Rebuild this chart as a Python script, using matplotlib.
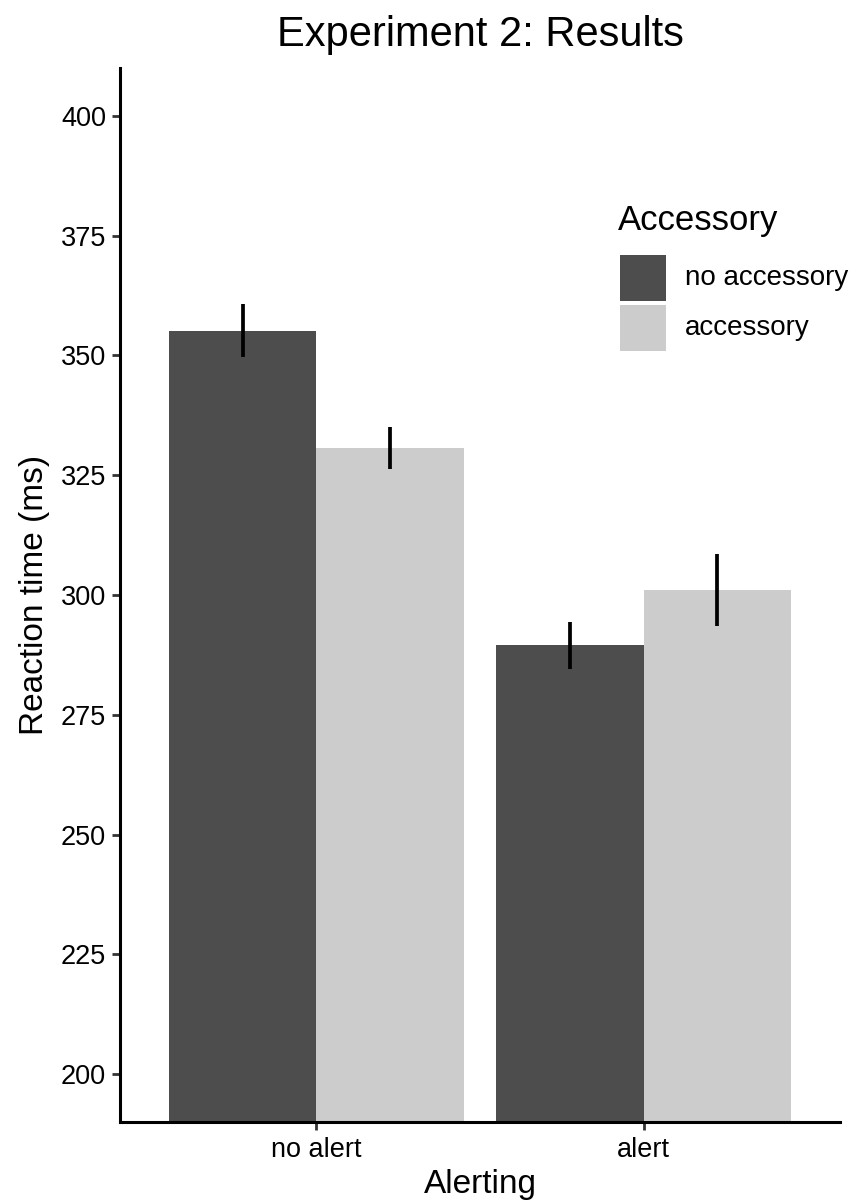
import numpy as np
import matplotlib
matplotlib.use("Agg")
import matplotlib.pyplot as plt
from matplotlib.patches import Rectangle

plt.rcParams['font.family'] = ['Liberation Sans', 'DejaVu Sans']

alerting = ["no alert", "alert"]
accessory = ["no accessory", "accessory"]
rt_no_acc = [355.2, 289.5]
rt_acc = [330.7, 301.0]
se_no_acc = [5.5, 4.9]
se_acc = [4.4, 7.5]
colors = ["#4d4d4d", "#cccccc"]
yticks = [200, 225, 250, 275, 300, 325, 350, 375, 400]

W, H = 850, 1201
fig = plt.figure(figsize=(W / 100, H / 100), dpi=100)
ax = fig.add_axes([120 / W, 1 - 1122 / H, 720 / W, (1122 - 68) / H])

x = np.arange(1, len(alerting) + 1)
w = 0.45
for i, (vals, errs) in enumerate([(rt_no_acc, se_no_acc), (rt_acc, se_acc)]):
    pos = x + (i - 0.5) * w
    ax.bar(pos, vals, width=w, color=colors[i], label=accessory[i], zorder=2)
    ax.errorbar(pos, vals, yerr=errs, fmt="none", ecolor="black",
                elinewidth=2.7, capsize=0, zorder=3)

ax.set_xlim(0.4, 2.6)
ax.set_ylim(190, 410)
ax.set_yticks(yticks)
ax.set_xticks(x)
ax.set_xticklabels(alerting)
ax.tick_params(labelsize=19.5, length=6, width=2.0, color="#333333", pad=4)
ax.tick_params(axis="x", pad=5)
for s in ["top", "right"]:
    ax.spines[s].set_visible(False)
for s in ["left", "bottom"]:
    ax.spines[s].set_linewidth(2.2)

ax.set_ylabel("Reaction time (ms)", fontsize=24, labelpad=8)
ax.set_xlabel("Alerting", fontsize=24, labelpad=4)
ax.set_title("Experiment 2: Results", fontsize=30, pad=16)

# legend drawn by hand (figure pixel positions)
tf = fig.transFigure
fig.text(618 / W, 1 - 230 / H, "Accessory", fontsize=25, va="baseline", ha="left")
for i, (lab, c) in enumerate(zip(accessory, colors)):
    top = 255 + i * 50
    fig.add_artist(Rectangle((620 / W, 1 - (top + 46) / H), 46 / W, 46 / H,
                             transform=tf, facecolor=c, edgecolor="none"))
    fig.text(685 / W, 1 - (top + 23) / H, lab, fontsize=20, va="center", ha="left")

fig.savefig("out.png", dpi=100)
